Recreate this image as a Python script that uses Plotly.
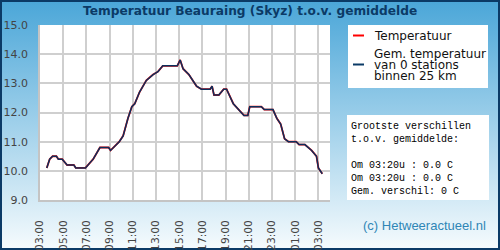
import base64
import plotly.graph_objects as go

# ---------------- data ----------------
times = [
    "2024-01-01 03:35", "2024-01-01 03:50", "2024-01-01 04:05", "2024-01-01 04:25",
    "2024-01-01 04:35", "2024-01-01 04:55", "2024-01-01 05:20", "2024-01-01 05:55",
    "2024-01-01 06:05", "2024-01-01 06:55", "2024-01-01 07:35", "2024-01-01 08:10",
    "2024-01-01 08:55", "2024-01-01 09:05", "2024-01-01 09:50", "2024-01-01 10:10",
    "2024-01-01 10:35", "2024-01-01 10:55", "2024-01-01 11:10", "2024-01-01 11:35",
    "2024-01-01 12:10", "2024-01-01 12:45", "2024-01-01 13:10", "2024-01-01 13:35",
    "2024-01-01 14:50", "2024-01-01 15:05", "2024-01-01 15:20", "2024-01-01 15:50",
    "2024-01-01 16:30", "2024-01-01 16:55", "2024-01-01 17:40", "2024-01-01 17:50",
    "2024-01-01 18:00", "2024-01-01 18:25", "2024-01-01 18:50", "2024-01-01 19:05",
    "2024-01-01 19:40", "2024-01-01 20:05", "2024-01-01 20:35", "2024-01-01 20:55",
    "2024-01-01 21:05", "2024-01-01 22:05", "2024-01-01 22:20", "2024-01-01 23:05",
    "2024-01-01 23:25", "2024-01-01 23:45", "2024-01-02 00:05", "2024-01-02 00:25",
    "2024-01-02 01:05", "2024-01-02 01:20", "2024-01-02 01:50", "2024-01-02 02:25",
    "2024-01-02 02:50", "2024-01-02 03:00", "2024-01-02 03:20",
]
temperatuur = [
    10.1, 10.4, 10.5, 10.5, 10.4, 10.4, 10.2, 10.2, 10.1, 10.1, 10.4, 10.8,
    10.8, 10.7, 11.0, 11.2, 11.8, 12.2, 12.3, 12.7, 13.1, 13.3, 13.4, 13.6,
    13.6, 13.8, 13.5, 13.3, 12.9, 12.8, 12.8, 12.9, 12.6, 12.6, 12.8, 12.8,
    12.3, 12.1, 11.9, 11.9, 12.2, 12.2, 12.1, 12.1, 11.8, 11.6, 11.1, 11.0,
    11.0, 10.9, 10.9, 10.7, 10.5, 10.1, 9.9,
]
gemiddelde = list(temperatuur)

tick_vals = ["2024-01-01 %02d:00" % h for h in range(3, 24, 2)] + \
            ["2024-01-02 %02d:00" % h for h in (1, 3)]
tick_text = ["03:00", "05:00", "07:00", "09:00", "11:00", "13:00", "15:00",
             "17:00", "19:00", "21:00", "23:00", "01:00", "03:00"]
x_range = ["2024-01-01 03:00", "2024-01-02 04:00"]
y_range = [9, 15]
y_ticks = [9, 10, 11, 12, 13, 14, 15]

title = "Temperatuur Beauraing (Skyz) t.o.v. gemiddelde"
legend_1 = "Temperatuur"
legend_2 = ["Gem. temperatuur", "van 0 stations", "binnen 25 km"]
info_lines = ["Grootste verschillen", "t.o.v. gemiddelde:", "",
              "Om 03:20u : 0.0 C", "Om 03:20u : 0.0 C", "Gem. verschil: 0 C"]
copyright_text = "(c) Hetweeractueel.nl"

# ---------------- layout geometry ----------------
W, H = 500, 250
L, R, T, B = 40, 170, 25, 50
PW, PH = W - L - R, H - T - B
GRID = "#cfcfcf"


def xp(px):
    return (px - L) / PW


def yp(py):
    return (H - B - py) / PH


hole = (f"M0,0 H{W} V{H} H0 Z "
        f"M{L},{T} V{T + PH} H{L + PW} V{T} Z")
svg = f'''<svg xmlns="http://www.w3.org/2000/svg" width="{W}" height="{H}" viewBox="0 0 {W} {H}" preserveAspectRatio="none">
<defs><linearGradient id="g" x1="0" y1="0" x2="0" y2="1">
<stop offset="0" stop-color="#4aa6d8"/><stop offset="1" stop-color="#f6fbfd"/>
</linearGradient></defs>
<path d="{hole}" fill="url(#g)" fill-rule="evenodd"/>
<rect x="1" y="1" width="{W-2}" height="{H-2}" fill="none" stroke="#0b3a66" stroke-width="2"/>
</svg>'''
bg_uri = "data:image/svg+xml;base64," + base64.b64encode(svg.encode()).decode()

fig = go.Figure()
fig.add_trace(go.Scatter(x=times, y=temperatuur, mode="lines",
                         line=dict(color="#ff0000", width=1.8), showlegend=False,
                         hoverinfo="skip"))
fig.add_trace(go.Scatter(x=times, y=gemiddelde, mode="lines",
                         line=dict(color="#0b2f5c", width=1.5), showlegend=False,
                         hoverinfo="skip"))

shapes = [
    dict(type="rect", xref="paper", yref="paper", x0=xp(348), x1=xp(488),
         y0=yp(88), y1=yp(25), fillcolor="white", line=dict(width=0), layer="below"),
    dict(type="line", xref="paper", yref="paper", x0=xp(353), x1=xp(364),
         y0=yp(35.5), y1=yp(35.5), line=dict(color="#ff0000", width=2)),
    dict(type="line", xref="paper", yref="paper", x0=xp(353), x1=xp(364),
         y0=yp(64.5), y1=yp(64.5), line=dict(color="#0b3a66", width=2)),
    dict(type="rect", xref="paper", yref="paper", x0=xp(347), x1=xp(489),
         y0=yp(200), y1=yp(115), fillcolor="white", line=dict(width=0), layer="below"),
]

ann = []
ann.append(dict(text="<b>%s</b>" % title, xref="paper", yref="paper", x=xp(250), y=yp(11.5),
                xanchor="center", yanchor="middle", showarrow=False,
                font=dict(family="DejaVu Sans", size=12.2, color="#0b3a66")))
ann.append(dict(text=legend_1, xref="paper", yref="paper", x=xp(372), y=yp(35.5),
                xanchor="left", yanchor="middle", showarrow=False,
                font=dict(family="DejaVu Sans", size=12, color="#111111")))
for i, s in enumerate(legend_2):
    ann.append(dict(text=s, xref="paper", yref="paper", x=xp(372), y=yp(54 + 11 * i),
                    xanchor="left", yanchor="middle", showarrow=False,
                    font=dict(family="DejaVu Sans", size=12, color="#111111")))
info_y = [126.3, 139, 152, 165.5, 178.2, 191]
for s, yy in zip(info_lines, info_y):
    if s:
        ann.append(dict(text=s.replace(" ", "&nbsp;"), xref="paper", yref="paper",
                        x=xp(348.5), y=yp(yy), xanchor="left", yanchor="middle",
                        showarrow=False,
                        font=dict(family="Liberation Mono", size=10, color="#000000")))
ann.append(dict(text=copyright_text, xref="paper", yref="paper", x=xp(488), y=yp(225),
                xanchor="right", yanchor="middle", showarrow=False,
                font=dict(family="Liberation Sans", size=13, color="#2f86b6")))

fig.update_layout(
    template="none",
    width=W, height=H,
    margin=dict(l=L, r=R, t=T, b=B, pad=0, autoexpand=False),
    paper_bgcolor="#ffffff", plot_bgcolor="#ffffff",
    showlegend=False,
    images=[dict(source=bg_uri, xref="paper", yref="paper", x=xp(0), y=yp(0),
                 sizex=W / PW, sizey=H / PH, xanchor="left", yanchor="top",
                 sizing="stretch", layer="below")],
    shapes=shapes, annotations=ann,
    xaxis=dict(type="date", range=x_range, tickvals=tick_vals, ticktext=tick_text,
               tickangle=-90, showgrid=True, gridcolor=GRID, gridwidth=1.6,
               showline=True, linecolor="#c4c4c4", linewidth=1.6, zeroline=False,
               ticks="", ticklabelstandoff=14, automargin=False,
               tickfont=dict(family="DejaVu Sans", size=10.7, color="#444444")),
    yaxis=dict(range=y_range, tickvals=y_ticks, tickformat=".1f",
               showgrid=True, gridcolor=GRID, gridwidth=1.6,
               showline=True, linecolor="#c4c4c4", linewidth=1.6, zeroline=False,
               ticks="", ticklabelstandoff=8, automargin=False,
               tickfont=dict(family="DejaVu Sans", size=11, color="#444444")),
)

fig.write_html("out.html")
